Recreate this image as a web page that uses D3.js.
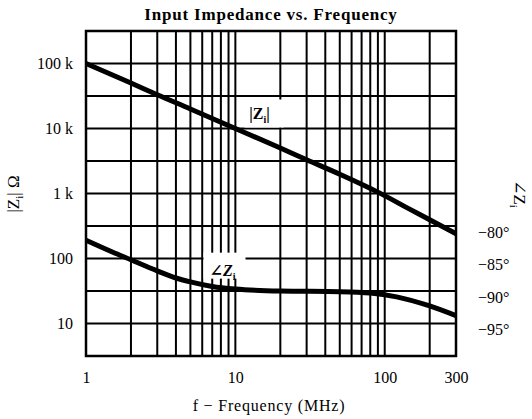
<!DOCTYPE html>
<meta charset="utf-8">
<title>Input Impedance vs. Frequency</title>
<script src="https://d3js.org/d3.v7.min.js"></script>
<style>
  body { margin: 0; background: #fff; }
  text { font-family: "Liberation Serif", "DejaVu Serif", serif; fill: #000; }
</style>
<div id="chart"></div>
<script>
  // values
  const freqTicks = [1, 10, 100, 300];
  const freqGrid = [1, 2, 3, 4, 5, 6, 7, 8, 9, 10, 20, 30, 40, 50, 60, 70, 80, 90, 100, 200, 300];
  const ohmTicks = [10, 100, 1000, 10000, 100000];
  const ohmTickLabels = ["10", "100", "1 k", "10 k", "100 k"];
  const degTicks = [-80, -85, -90, -95];

  const magFreq = [1, 2, 3, 5, 10, 20, 30, 50, 90, 150, 200, 300];
  const magOhm = [100000, 50000, 33000, 20000, 10000, 5000, 3300, 1980, 1050, 560, 395, 240];

  const phaseFreq = [1, 1.5, 2, 3, 4, 5, 7, 10, 20, 50, 80, 120, 200, 300];
  const phaseDeg = [-82.2, -84, -85.2, -86.9, -88, -88.6, -89.3, -89.7, -90, -90.1, -90.3, -90.9, -92.3, -93.8];

  const margin = { top: 31, right: 76, bottom: 63, left: 86 },
    width = 532 - margin.left - margin.right,
    height = 419 - margin.top - margin.bottom;

  const root = d3.select("#chart").append("svg")
    .attr("width", 532)
    .attr("height", 419)
    .attr("font-family", "Liberation Serif");

  const svg = root.append("g")
    .attr("transform", `translate(${margin.left},${margin.top})`);

  const x = d3.scaleLog().domain([1, 300]).range([0, width]);
  const y = d3.scaleLog().domain([Math.pow(10, 0.5), Math.pow(10, 5.5)]).range([height, 0]);
  const yDeg = d3.scaleLinear().domain([-100, -50]).range([height, 0]);

  // grid: half decades horizontally
  const hGrid = d3.range(1, 10).map(i => Math.pow(10, 0.5 + i * 0.5));
  svg.selectAll(".hgrid").data(hGrid).join("line")
    .attr("x1", 0).attr("x2", width)
    .attr("y1", d => y(d)).attr("y2", d => y(d))
    .attr("stroke", "#000").attr("stroke-width", 2);

  svg.selectAll(".vgrid").data(freqGrid).join("line")
    .attr("x1", d => x(d)).attr("x2", d => x(d))
    .attr("y1", 0).attr("y2", height)
    .attr("stroke", "#000").attr("stroke-width", 2);

  // label backgrounds knock out the grid
  const magLabel = svg.append("g").attr("transform", `translate(${x(14.5)},${y(17000)})`);
  magLabel.append("rect").attr("x", -15).attr("y", -14).attr("width", 39).attr("height", 28).attr("fill", "#fff");
  magLabel.append("text").attr("text-anchor", "middle").attr("y", 5)
    .style("font-size", "16px").style("font-weight", "bold")
    .html('|Z<tspan dy="4" style="font-size:10px">i</tspan><tspan dy="-4">|</tspan>');

  const phLabel = svg.append("g").attr("transform", `translate(${x(8.2)},${y(65)})`);
  phLabel.append("rect").attr("x", -19).attr("y", -18).attr("width", 42).attr("height", 26).attr("fill", "#fff");
  phLabel.append("text").attr("text-anchor", "middle").attr("y", 5)
    .style("font-size", "16px").style("font-style", "italic").style("font-weight", "bold")
    .html('∠Z<tspan dy="4" style="font-size:10px;font-style:normal">i</tspan>');

  // frame
  svg.append("rect")
    .attr("width", width).attr("height", height)
    .attr("fill", "none").attr("stroke", "#000").attr("stroke-width", 2.5);

  // curves
  const magLine = d3.line().curve(d3.curveMonotoneX)
    .x((d, i) => x(magFreq[i])).y(d => y(d));
  svg.append("path").datum(magOhm)
    .attr("d", magLine)
    .attr("fill", "none").attr("stroke", "#000").attr("stroke-width", 5);

  const phaseLine = d3.line().curve(d3.curveMonotoneX)
    .x((d, i) => x(phaseFreq[i])).y(d => yDeg(d));
  svg.append("path").datum(phaseDeg)
    .attr("d", phaseLine)
    .attr("fill", "none").attr("stroke", "#000").attr("stroke-width", 5);

  // axes (labels only)
  const xAxis = svg.append("g")
    .attr("transform", `translate(0,${height})`)
    .call(d3.axisBottom(x).tickValues(freqTicks).tickFormat(d3.format("d")).tickSize(0).tickPadding(16));
  xAxis.select(".domain").remove();
  xAxis.attr("font-family", "Liberation Serif");
  xAxis.selectAll("text").style("font-size", "16px").attr("fill", "#000");

  const yAxis = svg.append("g")
    .call(d3.axisLeft(y).tickValues(ohmTicks).tickFormat((d, i) => ohmTickLabels[i]).tickSize(0).tickPadding(13));
  yAxis.select(".domain").remove();
  yAxis.attr("font-family", "Liberation Serif");
  yAxis.selectAll("text").style("font-size", "16px").attr("fill", "#000");

  const yAxisR = svg.append("g")
    .attr("transform", `translate(${width},0)`)
    .call(d3.axisRight(yDeg).tickValues(degTicks).tickFormat(d => "\u2212" + Math.abs(d) + "°").tickSize(0).tickPadding(22));
  yAxisR.select(".domain").remove();
  yAxisR.attr("font-family", "Liberation Serif");
  yAxisR.selectAll("text").attr("dy", "0.7em").style("font-size", "16px").attr("fill", "#000");

  // titles
  root.append("text")
    .attr("x", 271).attr("y", 20)
    .attr("text-anchor", "middle")
    .style("font-size", "17px").style("font-weight", "bold").style("letter-spacing", "0.8px")
    .text("Input Impedance vs. Frequency");

  root.append("text")
    .attr("x", 269).attr("y", 411)
    .attr("text-anchor", "middle")
    .style("font-size", "16px").style("letter-spacing", "0.8px")
    .text("f \u2212 Frequency (MHz)");

  root.append("text")
    .attr("transform", "translate(19,194) rotate(-90)")
    .attr("text-anchor", "middle")
    .style("font-size", "17px")
    .html('|Z<tspan dy="4" style="font-size:11px">i</tspan><tspan dy="-4">| Ω</tspan>');

  root.append("text")
    .attr("transform", "translate(514,194) rotate(90)")
    .attr("text-anchor", "middle")
    .style("font-size", "17px")
    .html('∠Z<tspan dy="4" style="font-size:11px">i</tspan>');
</script>
